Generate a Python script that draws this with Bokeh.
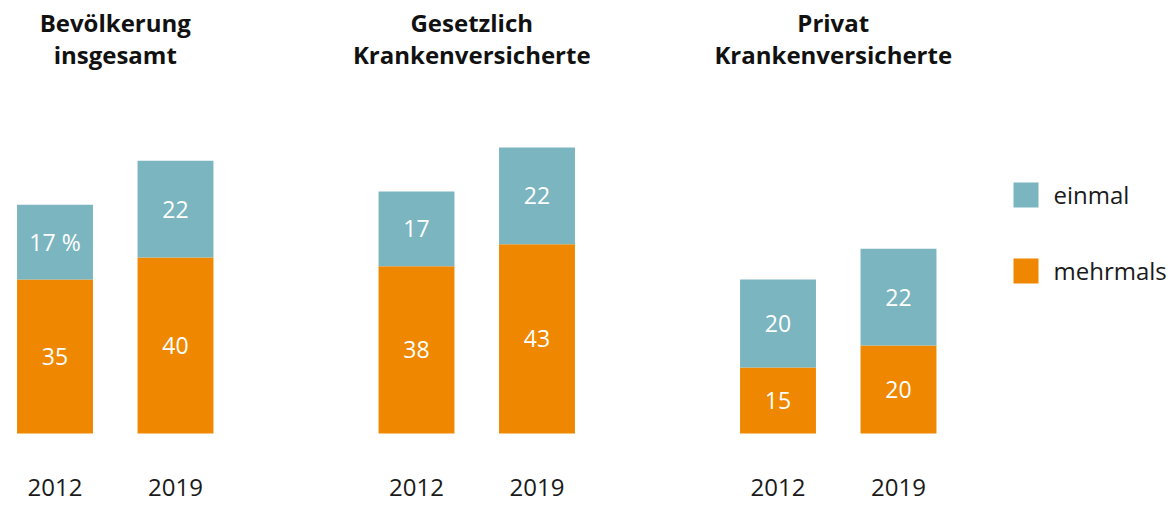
from bokeh.plotting import figure
from bokeh.models import ColumnDataSource, Range1d
from bokeh.core.properties import value
from bokeh.embed import file_html
from bokeh.resources import INLINE

# ---- data ----
groups = ["Bevölkerung\ninsgesamt", "Gesetzlich\nKrankenversicherte", "Privat\nKrankenversicherte"]
years = ["2012", "2019"]
einmal = [17, 22, 17, 22, 20, 22]
mehrmals = [35, 40, 38, 43, 15, 20]
series = ["einmal", "mehrmals"]

TEAL = "#7bb5c0"
ORANGE = "#ef8800"
FONT = "Open Sans"

W, H = 1168, 505
# pixel mapping (canvas coords): x = X0 + DX*k ; y_top = Y0 - SY*v
X0, DX = 54.5, 120.5
Y0, SY = 433.0, 4.4

def vy(py):  # canvas pixel from top -> data value
    return (Y0 - py) / SY

def kx(px):
    return (px - X0) / DX

xs, labels_year = [], []
for g in range(len(groups)):
    for j, yr in enumerate(years):
        xs.append(3 * g + j)
        labels_year.append(yr)

src = ColumnDataSource(dict(x=xs, mehrmals=mehrmals, einmal=einmal, year=labels_year))

p = figure(width=W, height=H, output_backend="svg", toolbar_location=None,
           x_range=Range1d(kx(0), kx(W)), y_range=Range1d(vy(H), vy(0)),
           min_border=0, outline_line_color=None)
p.axis.visible = False
p.grid.visible = False
p.background_fill_color = "white"
p.border_fill_color = "white"

p.vbar_stack(["mehrmals", "einmal"], x="x", width=0.63, source=src,
             color=[ORANGE, TEAL], line_color=None)

# segment labels
m_mid = [m / 2 for m in mehrmals]
e_mid = [m + e / 2 for m, e in zip(mehrmals, einmal)]
e_txt = [str(e) for e in einmal]
e_txt[0] = e_txt[0] + " %"
p.text(x=xs, y=m_mid, text=[str(m) for m in mehrmals], text_color="white",
       text_font=value(FONT), text_font_size="23px", text_align="center",
       text_baseline="middle")
p.text(x=xs, y=e_mid, text=e_txt, text_color="white",
       text_font=value(FONT), text_font_size="23px", text_align="center",
       text_baseline="middle")

# year labels
p.text(x=xs, y=[vy(487)] * len(xs), text=labels_year, text_color="#1a1a1a",
       text_font=value(FONT), text_font_size="24px", text_align="center",
       text_baseline="middle")

# group titles
gx = [3 * g + 0.5 for g in range(len(groups))]
title_dx = [0, -5, -5]  # small pixel nudges
line1 = [t.split("\n")[0] for t in groups]
line2 = [t.split("\n")[1] for t in groups]
p.text(x=gx, y=[vy(22)] * 3, text=line1, text_color="#111111", x_offset=title_dx,
       text_font=value(FONT), text_font_size="24px", text_font_style="bold",
       text_align="center", text_baseline="middle")
p.text(x=gx, y=[vy(54)] * 3, text=line2, text_color="#111111", x_offset=title_dx,
       text_font=value(FONT), text_font_size="24px", text_font_style="bold",
       text_align="center", text_baseline="middle")

# legend (manual)
sq = 25
lx = 1013
ly = [182, 258]  # canvas tops of squares
p.rect(x=[kx(lx + sq / 2)] * 2, y=[vy(t + sq / 2) for t in ly], width=sq, height=sq,
       width_units="screen", height_units="screen", color=[TEAL, ORANGE], line_color=None)
p.text(x=[kx(lx + 40)] * 2, y=[vy(t + sq / 2 - 1) for t in ly], text=series,
       text_color="#1a1a1a", text_font=value(FONT), text_font_size="24px",
       text_align="left", text_baseline="middle")

open("out.html", "w").write(file_html(p, INLINE))
